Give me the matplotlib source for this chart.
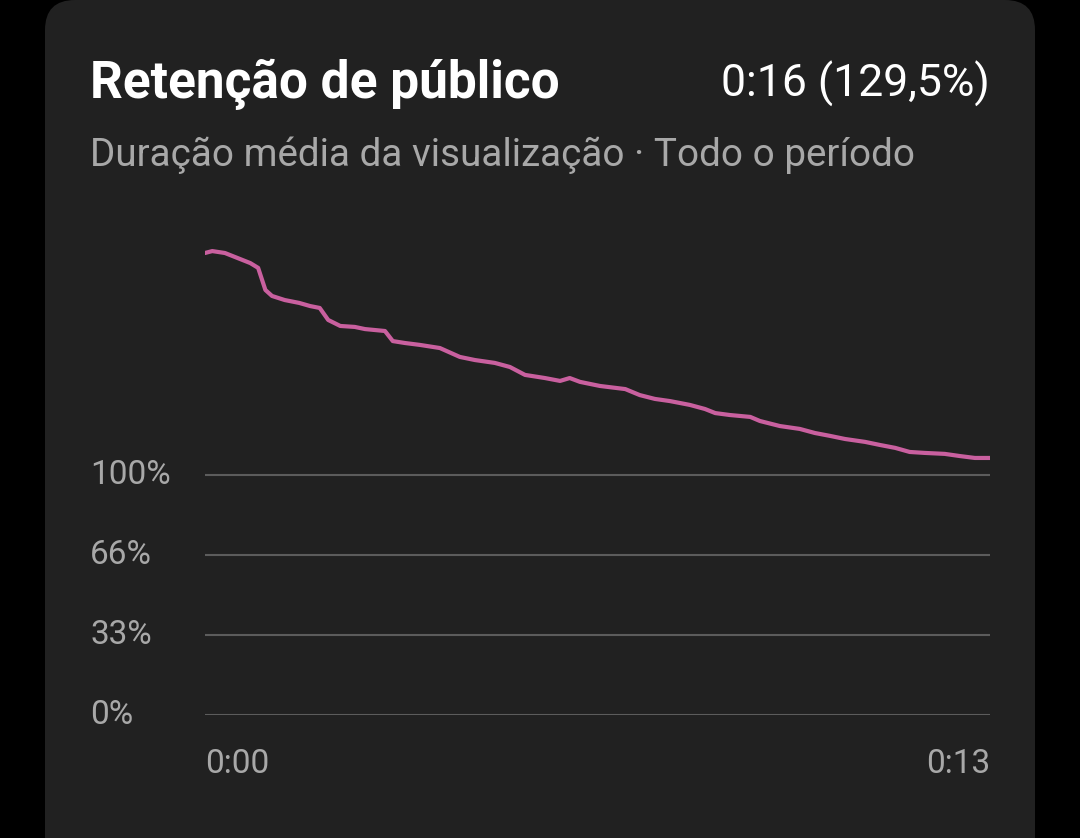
import matplotlib
matplotlib.use("Agg")
import matplotlib.pyplot as plt
from matplotlib.patches import FancyBboxPatch

plt.rcParams['font.family'] = ['Roboto', 'DejaVu Sans']

time_s = [0,0.12,0.33,0.50,0.75,0.88,1.00,1.11,1.32,1.56,1.74,1.90,2.04,2.24,2.48,2.65,2.98,3.11,3.31,3.56,3.89,4.22,4.47,4.80,5.05,5.30,5.63,5.88,6.04,6.21,6.54,6.96,7.20,7.45,7.70,8.03,8.28,8.45,8.69,9.03,9.19,9.52,9.85,10.10,10.35,10.60,10.93,11.18,11.43,11.67,11.92,12.25,12.50,12.75,13.0]
retention = [192.5,193.3,192.5,190.8,188.3,186.3,177.1,174.6,172.9,171.7,170.4,169.6,164.6,162.1,161.7,160.8,160.0,155.8,155.0,154.2,152.9,149.2,147.9,146.7,145.0,141.7,140.4,139.2,140.4,138.8,137.1,135.8,133.3,131.7,130.8,129.2,127.5,125.8,125.0,124.2,122.5,120.4,119.2,117.5,116.3,115.0,113.8,112.5,111.3,109.6,109.2,108.8,107.9,107.1,107.1]
y_ticks = [0, 33, 66, 100]
y_labels = ["0%", "33%", "66%", "100%"]
x_labels = ["0:00", "0:13"]

W, H = 1080, 838
fig = plt.figure(figsize=(10.8, 8.38), dpi=100)
fig.patch.set_facecolor('black')
bg = fig.add_axes([0, 0, 1, 1], zorder=-5)
bg.set_xlim(0, W); bg.set_ylim(H, 0); bg.axis('off')
bg.add_patch(FancyBboxPatch((45, 0), 990, 900, boxstyle="round,pad=0,rounding_size=30",
                            facecolor='#212121', edgecolor='none'))

fig.text(90/W, 1-84/H, "Retenção de público", color='white', fontsize=37, fontweight='bold', va='center')
fig.text(990/W, 1-84/H, "0:16 (129,5%)", color='white', fontsize=32, ha='right', va='center')
fig.text(90/W, 1-155/H, "Duração média da visualização · Todo o período", color='#a8a8a8', fontsize=27.8, va='center')

ax = fig.add_axes([205/W, 1-715/H, 785/W, 475/H])
ax.set_facecolor('none')
ax.set_xlim(0, 13)
ax.set_ylim(0, 475/2.4)
for t in y_ticks:
    ax.axhline(t * 100/99 if t in (33, 66) else t, color='#5c5c5c', lw=1.5, zorder=1)
ax.plot(time_s, retention, color='#c9609f', lw=3, zorder=3, solid_capstyle='round')
ax.axis('off')
for t, lab in zip(y_ticks, y_labels):
    tt = t * 100/99 if t in (33, 66) else t
    fig.text(90/W, 1-(715-tt*2.4)/H, lab, color='#a8a8a8', fontsize=24, va='center')
fig.text(205/W, 1-764/H, x_labels[0], color='#a8a8a8', fontsize=24, va='center')
fig.text(990/W, 1-764/H, x_labels[1], color='#a8a8a8', fontsize=24, va='center', ha='right')

fig.savefig("out.png", dpi=100, facecolor='black')
